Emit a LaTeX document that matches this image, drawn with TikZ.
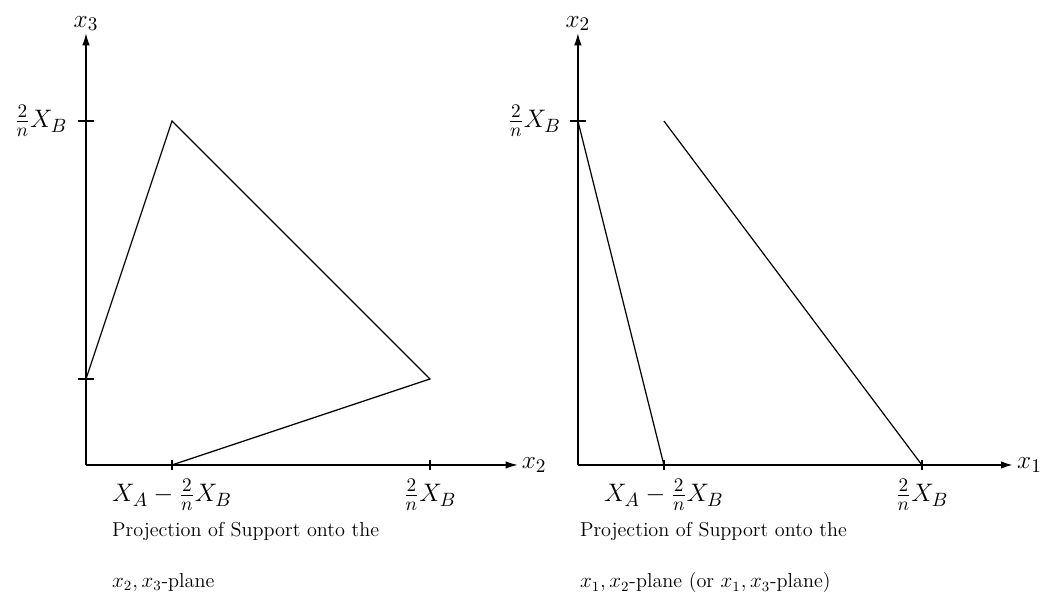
\documentclass[tikz,border=0pt]{standalone}
\usetikzlibrary{arrows.meta}
\usepackage{amsmath}

\begin{document}
\begin{tikzpicture}[>={Latex[length=2.4mm,width=1.5mm]},line width=0.7pt,
  x=1.72cm,y=1.72cm,font=\fontsize{11.5}{14}\selectfont,
  lab/.style={font=\fontsize{15}{18}\selectfont}]
\useasboundingbox (-1,-1.570) rectangle (11.14,5.407);
\def\tk{0.09}
% ---- x_2, x_3-plane ----
\coordinate (O) at (0,0);
\node[lab,anchor=south,inner sep=1pt] (xiii) at (0,5.02) {$x_3$};
\node[lab,anchor=west,inner sep=2pt] (xii) at (5.02,0) {$x_2$};
\draw[->] (O) -- (xiii.south);
\draw[->] (O) -- (xii.west);
\foreach \t in {1,4}{
  \draw (-\tk,\t) -- (\tk,\t);
  \draw (\t,-0.06) -- (\t,0.06);}
\node[lab,anchor=east,inner sep=2pt] (ylab) at (-0.17,4) {$\frac{2}{n}X_B$};
\node[lab,anchor=north,inner sep=2pt] (xlabA) at (1,-0.12) {$X_A-\frac{2}{n}X_B$};
\node[lab,anchor=north,inner sep=2pt] (xlabB) at (4,-0.12) {$\frac{2}{n}X_B$};
\coordinate (p1) at (0,1);
\coordinate (p2) at (1,4);
\coordinate (p3) at (4,1);
\coordinate (p4) at (1,0);
\draw (p1) -- (p2) -- (p3) -- (p4);
\node[anchor=west] (capa) at (0.23,-0.77) {Projection of Support onto the};
\node[anchor=west] (capb) at (0.23,-1.37) {$x_2,x_3$-plane};
% ---- x_1, x_2-plane ----
\begin{scope}[shift={(5.72,0)}]
\coordinate (Q) at (0,0);
\node[lab,anchor=south,inner sep=1pt] (yii) at (0,5.02) {$x_2$};
\node[lab,anchor=west,inner sep=2pt] (yi) at (5.06,0) {$x_1$};
\draw[->] (Q) -- (yii.south);
\draw[->,line width=1.1pt] (Q) -- (yi.west);
\draw (-\tk,4) -- (\tk,4);
\foreach \t in {1,4}{
  \draw (\t,-0.06) -- (\t,0.06);}
\node[lab,anchor=east,inner sep=2pt] (ylabr) at (-0.15,4) {$\frac{2}{n}X_B$};
\node[lab,anchor=north,inner sep=2pt] (xlabrA) at (1,-0.12) {$X_A-\frac{2}{n}X_B$};
\node[lab,anchor=north,inner sep=2pt] (xlabrB) at (4,-0.12) {$\frac{2}{n}X_B$};
\coordinate (q1) at (0,4);
\coordinate (q2) at (1,0);
\coordinate (q3) at (1,4);
\coordinate (q4) at (4,0);
\draw (q1) -- (q2);
\draw (q3) -- (q4);
\node[anchor=west] (capc) at (-0.05,-0.77) {Projection of Support onto the};
\node[anchor=west] (capd) at (-0.05,-1.37) {$x_1,x_2$-plane (or $x_1,x_3$-plane)};
\end{scope}
\end{tikzpicture}
\end{document}
